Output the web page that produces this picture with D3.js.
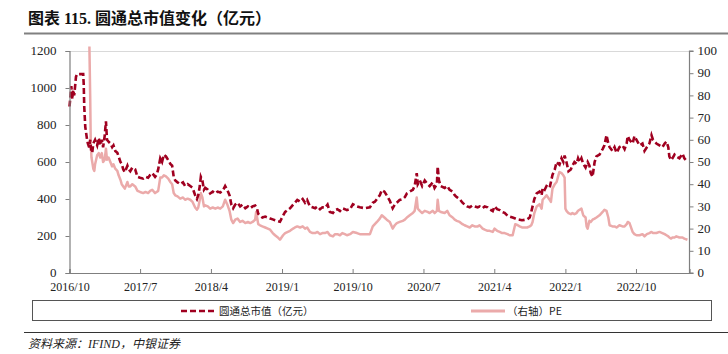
<!DOCTYPE html>
<html><head><meta charset="utf-8">
<script src="https://cdn.jsdelivr.net/npm/d3@7"></script>
<style>
body{margin:0;background:#fff;}
svg{display:block;}
</style></head>
<body>
<svg id="c" width="728" height="354"></svg>
<script>
const titleText = "图表 115. 圆通总市值变化（亿元）";
const sourceText = "资料来源：IFIND，中银证券";
const capLabel = "圆通总市值（亿元）";
const peLabel = "（右轴）PE";
const leftTicks = [0,200,400,600,800,1000,1200];
const rightTicks = [0,10,20,30,40,50,60,70,80,90,100];
const xTickLabels = ["2016/10","2017/7","2018/4","2019/1","2019/10","2020/7","2021/4","2022/1","2022/10"];
const xTickDates = ["2016-10-20","2017-07-20","2018-04-20","2019-01-20","2019-10-20","2020-07-20","2021-04-20","2022-01-20","2022-10-20"];
const xDomain = ["2016-10-20","2023-05-15"];

const capDates = ["2016-10-20","2016-10-24","2016-10-27","2016-10-31","2016-11-03","2016-11-07","2016-11-10","2016-11-14","2016-11-18","2016-12-12","2016-12-14","2016-12-16","2016-12-20","2016-12-23","2016-12-27","2016-12-30","2017-01-04","2017-01-08","2017-01-12","2017-01-16","2017-01-20","2017-01-27","2017-02-04","2017-02-10","2017-02-16","2017-02-22","2017-02-27","2017-03-05","2017-03-10","2017-03-14","2017-03-20","2017-03-27","2017-04-03","2017-04-08","2017-04-15","2017-04-23","2017-04-28","2017-05-05","2017-05-10","2017-05-16","2017-05-22","2017-06-01","2017-06-06","2017-06-12","2017-06-20","2017-07-01","2017-07-10","2017-07-20","2017-08-01","2017-08-10","2017-08-20","2017-08-28","2017-09-05","2017-09-16","2017-09-22","2017-09-28","2017-10-06","2017-10-13","2017-10-20","2017-10-28","2017-11-06","2017-11-14","2017-11-21","2017-11-27","2017-12-03","2017-12-12","2017-12-22","2018-01-02","2018-01-10","2018-01-20","2018-01-30","2018-02-08","2018-02-18","2018-02-25","2018-03-02","2018-03-08","2018-03-12","2018-03-18","2018-03-24","2018-03-29","2018-04-08","2018-04-17","2018-04-27","2018-05-07","2018-05-16","2018-05-26","2018-06-05","2018-06-14","2018-06-22","2018-07-01","2018-07-08","2018-07-15","2018-07-23","2018-08-01","2018-08-11","2018-08-20","2018-08-31","2018-09-10","2018-09-19","2018-09-28","2018-10-08","2018-10-15","2018-10-20","2018-10-27","2018-11-05","2018-11-16","2018-11-26","2018-12-05","2018-12-15","2018-12-24","2019-01-04","2019-01-12","2019-01-24","2019-02-01","2019-02-20","2019-03-04","2019-03-11","2019-03-20","2019-03-31","2019-04-10","2019-04-19","2019-04-27","2019-05-08","2019-05-18","2019-05-28","2019-06-06","2019-06-16","2019-06-25","2019-07-05","2019-07-15","2019-07-24","2019-08-05","2019-08-13","2019-08-22","2019-09-01","2019-09-10","2019-09-20","2019-09-28","2019-10-10","2019-10-21","2019-11-06","2019-11-17","2019-12-07","2019-12-26","2020-01-06","2020-01-14","2020-01-22","2020-02-02","2020-02-10","2020-02-20","2020-02-29","2020-03-12","2020-03-23","2020-03-31","2020-04-08","2020-04-19","2020-05-01","2020-05-09","2020-05-17","2020-05-28","2020-06-09","2020-06-16","2020-06-24","2020-06-28","2020-07-06","2020-07-15","2020-07-25","2020-08-05","2020-08-13","2020-08-25","2020-09-01","2020-09-10","2020-09-13","2020-09-18","2020-09-25","2020-10-10","2020-10-20","2020-10-29","2020-11-10","2020-11-18","2020-11-26","2020-12-07","2020-12-18","2020-12-26","2021-01-05","2021-01-15","2021-01-25","2021-02-03","2021-02-15","2021-02-22","2021-03-06","2021-03-14","2021-03-25","2021-04-02","2021-04-14","2021-04-21","2021-05-01","2021-05-11","2021-05-20","2021-05-30","2021-06-10","2021-06-18","2021-06-30","2021-07-10","2021-07-20","2021-07-27","2021-08-05","2021-08-15","2021-08-25","2021-09-04","2021-09-10","2021-09-15","2021-09-22","2021-10-01","2021-10-12","2021-10-20","2021-10-24","2021-11-01","2021-11-08","2021-11-20","2021-12-01","2021-12-10","2021-12-17","2021-12-24","2021-12-28","2022-01-05","2022-01-12","2022-01-17","2022-01-24","2022-02-01","2022-02-10","2022-02-16","2022-02-24","2022-03-04","2022-03-10","2022-03-16","2022-03-23","2022-03-30","2022-04-08","2022-04-16","2022-04-23","2022-04-28","2022-05-05","2022-05-13","2022-05-20","2022-06-01","2022-06-13","2022-06-20","2022-06-28","2022-07-05","2022-07-10","2022-07-21","2022-07-29","2022-08-06","2022-08-17","2022-08-29","2022-09-06","2022-09-14","2022-09-18","2022-09-25","2022-10-07","2022-10-14","2022-10-22","2022-11-03","2022-11-14","2022-11-22","2022-12-01","2022-12-11","2022-12-19","2022-12-25","2023-01-07","2023-01-19","2023-01-30","2023-02-08","2023-02-15","2023-02-22","2023-02-26","2023-03-05","2023-03-10","2023-03-18","2023-03-25","2023-04-06","2023-04-18","2023-04-25","2023-05-07"];
const capValues = [900,960,1010,940,990,960,1000,1060,1075,1075,1020,900,790,760,720,700,680,720,660,650,700,720,690,730,690,720,680,740,820,720,710,700,680,690,660,650,630,600,590,560,545,580,560,550,570,560,520,515,510,520,515,530,540,520,530,560,620,600,640,630,610,590,580,520,500,490,480,490,470,480,470,460,420,400,420,470,520,500,450,460,450,430,440,430,440,435,445,470,450,420,370,350,370,380,360,370,350,360,350,360,365,350,320,310,300,305,300,295,290,285,280,277,310,330,350,370,380,395,385,400,380,395,360,355,350,360,345,355,352,370,330,325,340,345,335,350,345,340,345,372,360,355,350,355,380,385,400,420,448,440,420,390,350,370,380,395,400,410,430,440,450,470,540,480,500,470,500,480,470,490,460,480,575,500,470,460,470,450,440,420,410,400,380,370,360,355,365,360,355,360,350,360,355,345,335,360,345,340,330,325,310,305,300,295,290,288,285,287,290,300,330,360,400,430,440,420,460,450,470,460,530,560,600,590,585,620,600,635,600,550,560,580,600,590,620,600,620,590,570,600,580,540,520,600,630,640,670,690,745,700,680,660,680,650,680,690,670,700,740,720,700,740,720,690,700,660,680,700,745,720,700,690,680,700,710,680,630,610,620,640,630,620,645,620,600];

const peDates = ["2017-01-05","2017-01-08","2017-01-10","2017-01-13","2017-01-16","2017-01-20","2017-01-24","2017-01-27","2017-02-04","2017-02-10","2017-02-16","2017-02-22","2017-02-27","2017-03-05","2017-03-10","2017-03-14","2017-03-20","2017-03-27","2017-04-03","2017-04-08","2017-04-15","2017-04-23","2017-04-28","2017-05-05","2017-05-10","2017-05-16","2017-05-22","2017-06-01","2017-06-06","2017-06-12","2017-06-20","2017-07-01","2017-07-10","2017-07-20","2017-08-01","2017-08-10","2017-08-20","2017-08-28","2017-09-05","2017-09-16","2017-09-22","2017-09-28","2017-10-06","2017-10-13","2017-10-20","2017-10-28","2017-11-06","2017-11-14","2017-11-21","2017-11-27","2017-12-03","2017-12-12","2017-12-22","2018-01-02","2018-01-10","2018-01-20","2018-01-30","2018-02-08","2018-02-18","2018-02-25","2018-03-02","2018-03-08","2018-03-12","2018-03-18","2018-03-24","2018-03-29","2018-04-08","2018-04-17","2018-04-27","2018-05-07","2018-05-16","2018-05-26","2018-06-05","2018-06-14","2018-06-22","2018-07-01","2018-07-08","2018-07-15","2018-07-23","2018-08-01","2018-08-11","2018-08-20","2018-08-31","2018-09-10","2018-09-19","2018-09-28","2018-10-08","2018-10-12","2018-10-20","2018-10-27","2018-11-05","2018-11-16","2018-11-26","2018-12-05","2018-12-15","2018-12-24","2019-01-04","2019-01-12","2019-01-24","2019-02-01","2019-02-20","2019-03-04","2019-03-11","2019-03-20","2019-03-31","2019-04-10","2019-04-19","2019-04-27","2019-05-08","2019-05-18","2019-05-28","2019-06-06","2019-06-16","2019-06-25","2019-07-05","2019-07-15","2019-07-24","2019-08-05","2019-08-13","2019-08-22","2019-09-01","2019-09-10","2019-09-20","2019-09-28","2019-10-10","2019-10-21","2019-11-06","2019-11-17","2019-12-07","2019-12-26","2020-01-06","2020-01-14","2020-01-22","2020-02-02","2020-02-10","2020-02-20","2020-02-29","2020-03-12","2020-03-23","2020-03-31","2020-04-08","2020-04-19","2020-05-01","2020-05-09","2020-05-17","2020-05-28","2020-06-09","2020-06-16","2020-06-24","2020-06-28","2020-07-06","2020-07-15","2020-07-25","2020-08-05","2020-08-13","2020-08-25","2020-09-01","2020-09-10","2020-09-13","2020-09-18","2020-09-25","2020-10-10","2020-10-20","2020-10-29","2020-11-10","2020-11-18","2020-11-26","2020-12-07","2020-12-18","2020-12-26","2021-01-05","2021-01-15","2021-01-25","2021-02-03","2021-02-15","2021-02-22","2021-03-06","2021-03-14","2021-03-25","2021-04-02","2021-04-14","2021-04-21","2021-05-01","2021-05-11","2021-05-20","2021-05-30","2021-06-10","2021-06-18","2021-06-30","2021-07-10","2021-07-20","2021-07-27","2021-08-05","2021-08-15","2021-08-25","2021-09-04","2021-09-10","2021-09-15","2021-09-22","2021-10-01","2021-10-12","2021-10-20","2021-10-24","2021-11-01","2021-11-08","2021-11-20","2021-11-25","2021-12-01","2021-12-10","2021-12-17","2021-12-24","2021-12-28","2022-01-05","2022-01-12","2022-01-17","2022-01-20","2022-01-24","2022-02-01","2022-02-10","2022-02-16","2022-02-24","2022-03-04","2022-03-10","2022-03-16","2022-03-23","2022-03-30","2022-04-08","2022-04-12","2022-04-16","2022-04-23","2022-04-28","2022-05-05","2022-05-13","2022-05-20","2022-06-01","2022-06-13","2022-06-20","2022-06-28","2022-07-05","2022-07-10","2022-07-21","2022-07-29","2022-08-06","2022-08-17","2022-08-29","2022-09-06","2022-09-14","2022-09-18","2022-09-25","2022-10-07","2022-10-14","2022-10-22","2022-11-03","2022-11-14","2022-11-22","2022-12-01","2022-12-11","2022-12-19","2022-12-25","2023-01-07","2023-01-19","2023-01-30","2023-02-08","2023-02-15","2023-02-22","2023-02-26","2023-03-05","2023-03-10","2023-03-18","2023-03-25","2023-04-06","2023-04-18","2023-04-25","2023-05-07"];
const peValues = [102,80,60,52,50,47,46,49,53,54,52,54,50,51,56,51,52,50,48,49,47,46,44,42,40,39,38,41,39,39,40,39,37,36.5,36,36.5,36,37,37.5,36,36.5,37,43,43,44,43.5,42.5,41,40,36,35,34.5,33.5,34,33,33.5,33,32,29.5,28.5,29.5,33,36,34,30,30.5,30,29,29.5,29,29.5,29,30,33,31,28,24,22.5,24,24.5,23,23.5,22.5,23,22.5,23,24,27.5,22,21.5,21,20.5,20,19.5,18,17,16,15,17,18,19,20,20.5,21,20.5,21,20,20.5,18.5,18,18,18.5,17.5,18,18,18.5,17,16.5,17.5,17.5,17,18,17.5,17,17.5,18.5,18,17.5,17.5,17.5,21,22,23,24.5,26,25,24,23,20,21.5,22.5,23,23.5,24,25,26,27,28,34,29,28,27,28,27.5,27,28,27,28,33,28,27.5,27,28,26,25,24,23.5,23,22,21.5,21,20.5,21.5,21,21,21.5,20,19.5,19,19,18.5,20,19,18.5,18,18,17.5,17,17,22,21.5,21,20.5,20.5,20.5,21,21.5,23,27,30,31,29,33,34,35,33,32,38,40,41,44,45.5,45,44,43,29,28,27,26.5,27,26.5,27,28,28.5,29,26,25,21,20,23.5,23,24,24.5,25,26,27.5,28.5,28,25,21.5,21,21,20.5,21.5,21,21,22,23,22.5,18.5,17.5,17,17,17.5,16.5,17.5,18,18.5,18,18,18.5,18,17.5,17,16.5,16,15.5,16,16,16.5,16,16,15.5,15];

const svg = d3.select("#c");
const parse = d3.timeParse("%Y-%m-%d");
const pLeft = 69.5, pRight = 689.5, pTop = 51, pBottom = 273;
const x = d3.scaleTime().domain(xDomain.map(parse)).range([pLeft, pRight]);
const yL = d3.scaleLinear().domain([0,1200]).range([pBottom, pTop]);
const yR = d3.scaleLinear().domain([0,100]).range([pBottom, pTop]);
const serif = "'Liberation Serif','Times New Roman',serif";
const cjk = "'Noto Sans CJK SC','Noto Sans',sans-serif";

// title
svg.append("text").attr("x",28).attr("y",24)
  .attr("font-family","'Liberation Serif','Noto Sans CJK SC',serif").attr("font-weight","bold")
  .attr("font-size",16).attr("fill","#111").text(titleText);
svg.append("line").attr("x1",24).attr("x2",728).attr("y1",33.5).attr("y2",33.5)
  .attr("stroke","#808080").attr("stroke-width",2);

// top light line
svg.append("line").attr("x1",pLeft).attr("x2",pRight).attr("y1",pTop+0.5).attr("y2",pTop+0.5)
  .attr("stroke","#d9d9d9").attr("stroke-width",1);

// lines
const peData = peDates.map((d,i)=>({d:parse(d),v:peValues[i]}));
const capData = capDates.map((d,i)=>({d:parse(d),v:capValues[i]}));
svg.append("path").datum(peData)
  .attr("d", d3.line().defined(p=>p.v!=null).x(p=>x(p.d)).y(p=>yR(p.v)))
  .attr("fill","none").attr("stroke","#EBAAAA").attr("stroke-width",2.5).attr("stroke-linejoin","round");
svg.append("path").datum(capData)
  .attr("d", d3.line().defined(p=>p.v!=null).x(p=>x(p.d)).y(p=>yL(p.v)))
  .attr("fill","none").attr("stroke","#A00020").attr("stroke-width",2.6).attr("stroke-dasharray","6,3");

// axes
const axL = svg.append("g").attr("transform",`translate(${pLeft},0)`)
  .call(d3.axisLeft(yL).tickValues(leftTicks).tickFormat(d3.format("d")).tickSize(4).tickPadding(9));
const axR = svg.append("g").attr("transform",`translate(${pRight},0)`)
  .call(d3.axisRight(yR).tickValues(rightTicks).tickFormat(d3.format("d")).tickSize(4).tickPadding(4));
const axB = svg.append("g").attr("transform",`translate(0,${pBottom})`)
  .call(d3.axisBottom(x).tickValues(xTickDates.map(parse)).tickSize(-4).tickPadding(10)
    .tickFormat((d,i)=>xTickLabels[i]));
[axL,axR,axB].forEach(g=>{
  g.select(".domain").attr("stroke","#7f7f7f").attr("stroke-width",1.2);
  g.selectAll(".tick line").attr("stroke","#7f7f7f");
  g.selectAll("text").attr("font-family",serif).attr("font-size",13).attr("fill","#222");
});
axB.selectAll("text").attr("font-size",12).attr("dy","0.68em");
axL.selectAll("text").attr("dy","0.25em");
axR.selectAll("text").attr("dy","0.28em");
axR.select(".domain").attr("d",`M4,${pTop}H0V${pBottom}H4`);

// legend
svg.append("rect").attr("x",32.5).attr("y",300.5).attr("width",679).attr("height",20)
  .attr("fill","#fff").attr("stroke","#555").attr("stroke-width",1);
svg.append("line").attr("x1",181).attr("x2",217).attr("y1",311).attr("y2",311)
  .attr("stroke","#A00020").attr("stroke-width",2.6).attr("stroke-dasharray","6,3");
svg.append("text").attr("x",219).attr("y",315).attr("font-family",cjk).attr("font-size",10.5)
  .attr("fill","#222").text(capLabel);
svg.append("line").attr("x1",471).attr("x2",505).attr("y1",311).attr("y2",311)
  .attr("stroke","#EBAAAA").attr("stroke-width",3);
svg.append("text").attr("x",507).attr("y",315).attr("font-family",cjk).attr("font-size",10.5)
  .attr("fill","#222").text(peLabel);

// source
svg.append("line").attr("x1",24).attr("x2",728).attr("y1",332.5).attr("y2",332.5)
  .attr("stroke","#333").attr("stroke-width",1.2);
svg.append("text").attr("x",28).attr("y",348).attr("font-family","'Liberation Serif','Noto Sans CJK SC',serif")
  .attr("font-style","italic").attr("font-size",12).attr("fill","#222").text(sourceText);
</script>
</body></html>
